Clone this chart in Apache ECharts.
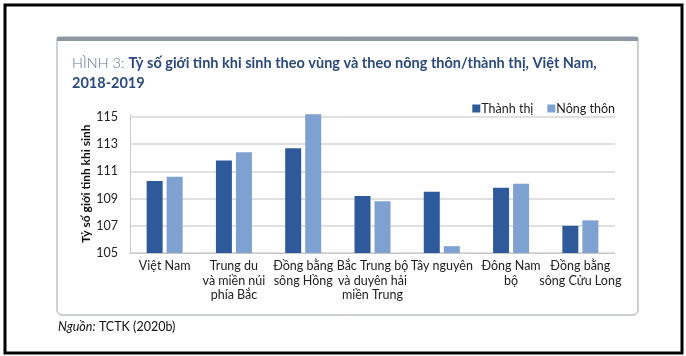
<!DOCTYPE html>
<html><head><meta charset="utf-8">
<script src="https://cdn.jsdelivr.net/npm/echarts@6/dist/echarts.min.js"></script>
<style>html,body{margin:0;padding:0;background:#fff}#c{width:686px;height:356px}</style>
</head><body><div id="c"></div>
<script>
const categories = ["Việt Nam","Trung du\nvà miền núi\nphía Bắc","Đồng bằng\nsông Hồng","Bắc Trung bộ\nvà duyên hải\nmiền Trung","Tây nguyên","Đông Nam\nbộ","Đồng bằng\nsông Cửu Long"];
const thanhThi = [110.3, 111.8, 112.7, 109.2, 109.5, 109.8, 107.0];
const nongThon = [110.6, 112.4, 115.2, 108.8, 105.5, 110.1, 107.4];
const seriesNames = ["Thành thị","Nông thôn"];
const yTicks = [105, 107, 109, 111, 113, 115];

const chart = echarts.init(document.getElementById('c'), null, {renderer:'canvas'});
const darkBlue = '#2e5a9c', lightBlue = '#7fa1d2';
chart.setOption({
  backgroundColor:'#fff',
  animation:false,
  graphic:[
    {type:'rect', shape:{x:5,y:5,width:677,height:348}, style:{fill:'none',stroke:'#000',lineWidth:3}, z:-10},
    {type:'rect', shape:{x:57,y:37,width:581,height:278,r:[2,2,5,5]}, style:{fill:'#fff',stroke:'#9aa3ae',lineWidth:1}, z:-9},
    {type:'rect', shape:{x:57,y:37,width:581,height:4}, style:{fill:'#8d97a5'}, z:-8},
    {type:'text', left:58, top:320, style:{rich:{i:{fontStyle:'italic',fontSize:12.5,fontFamily:'Lato',fill:'#111'},n:{fontSize:12.5,fontFamily:'Lato',fill:'#111'}}, text:'{i|Nguồn:} {n|TCTK (2020b)}'}}
  ],
  title:{
    left:72, top:53, padding:0,
    text:'{a|HÌNH 3: }{b|Tỷ số giới tinh khi sinh theo vùng và theo nông thôn/thành thị, Việt Nam,}\n{b|2018-2019}',
    textStyle:{rich:{
      a:{fontFamily:'Lato',fontSize:14.5,fontWeight:300,color:'#5b7398',lineHeight:20},
      b:{fontFamily:'Lato',fontSize:14.5,fontWeight:'bold',color:'#2a4a7f',lineHeight:20}
    }}
  },
  legend:{
    right:71, top:102, itemWidth:8, itemHeight:8, itemGap:14, icon:'rect', padding:0,
    textStyle:{fontFamily:'Lato',fontSize:12.5,color:'#222',padding:[0,0,0,-4]},
    data:seriesNames
  },
  grid:{left:130, right:71, top:114.3, bottom:103},
  xAxis:{
    type:'category', data:categories,
    axisLine:{lineStyle:{color:'#c8c8c8'}}, axisTick:{show:false},
    axisLabel:{interval:0, fontFamily:'Lato', fontSize:12.5, color:'#222', lineHeight:14.5, margin:6}
  },
  yAxis:{
    type:'value', min:105, max:115.2, interval:2,
    name:'Tỷ số giới tinh khi sinh', nameLocation:'middle', nameGap:38, nameMoveOverlap:false,
    nameTextStyle:{fontFamily:'Lato', fontWeight:'bold', fontSize:12, color:'#111'},
    axisLine:{show:true, lineStyle:{color:'#c8c8c8'}}, axisTick:{show:false},
    axisLabel:{fontFamily:'Lato', fontSize:12.5, color:'#222', margin:12,
      formatter:function(v){return yTicks.indexOf(v)>=0 ? String(v) : '';}},
    splitLine:{lineStyle:{color:['#d6d6d6','#d6d6d6','#d6d6d6','#d6d6d6','#d6d6d6','#d6d6d6','rgba(0,0,0,0)'], width:1.5}}
  },
  series:[
    {name:seriesNames[0], type:'bar', data:thanhThi, barWidth:16, barGap:'25%', itemStyle:{color:darkBlue}},
    {name:seriesNames[1], type:'bar', data:nongThon, barWidth:16, barGap:'25%', itemStyle:{color:lightBlue}}
  ]
});
</script></body></html>
